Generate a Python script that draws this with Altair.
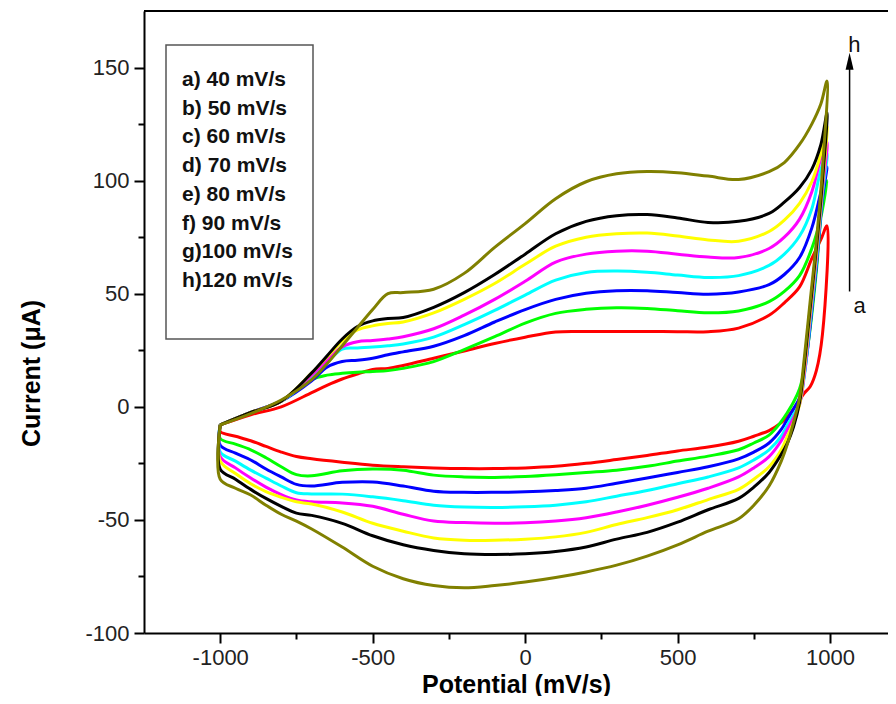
import altair as alt
import pandas as pd

FONT = "Liberation Sans"

SERIES = ["a", "b", "c", "d", "e", "f", "g", "h"]
LABELS = ["a) 40 mV/s", "b) 50 mV/s", "c) 60 mV/s", "d) 70 mV/s",
          "e) 80 mV/s", "f)  90 mV/s", "g)100 mV/s", "h)120 mV/s"]
COLORS = ["#ff0000", "#00ff00", "#0000ff", "#00ffff",
          "#ff00ff", "#ffff00", "#000000", "#808000"]

# forward (upper) scan potentials, mV
X_UP = [-1000, -900, -800, -700, -650, -600, -550, -500, -450, -400,
        -300, -200, -100, 0, 100, 200, 300, 400, 500, 600,
        700, 800, 850, 900, 940, 970, 990]
# reverse (lower) scan potentials, mV
X_DN = [975, 955, 935, 915, 900, 880, 860, 840, 800, 750,
        700, 600, 500, 400, 300, 200, 100, 0, -100, -200,
        -300, -400, -500, -600, -700, -750, -800, -850, -900, -950,
        -1000]

A_UP = [-8, -3.5, 0, 6.3, 9.5, 12.3, 14.5, 16.5, 17, 18.3,
        21.5, 24.7, 28, 30.8, 33.1, 33.3, 33.3, 33.3, 33.2, 33.2,
        34.8, 40.5, 46, 53, 65.5, 74, 80]
B_UP = [-8, -2.5, 2.5, 12, 14, 14.8, 15.3, 15.6, 16, 17,
        20, 25.3, 31, 37, 41.3, 43.1, 43.8, 43.5, 42.5, 41.6,
        42.4, 46.5, 51, 58, 70, 84, 100]
C_UP = [-8, -2.5, 2.5, 11.5, 17.5, 20, 20.6, 21.5, 23, 24.3,
        26.8, 31.5, 37.5, 43, 47.5, 50.2, 51.3, 51.3, 50.5, 49.8,
        50.8, 54, 58.5, 66, 79, 95, 106]
D_UP = [-8, -2.5, 2.5, 13, 19.5, 25.5, 26, 26.4, 27, 27.8,
        30.8, 36.3, 42.6, 49.4, 56, 59.4, 60, 59.5, 58.3, 57.2,
        58, 62.5, 67.5, 75.5, 87.5, 105, 112]
E_UP = [-8, -2.5, 2.5, 14, 20.5, 26.5, 28.8, 29.3, 30, 31,
        34.5, 40.5, 47.5, 55.5, 64, 67.5, 68.8, 68.8, 67.5, 66.2,
        66, 70, 75, 83, 95, 110, 117]
F_UP = [-8, -2.5, 2.5, 15, 22, 29, 34, 35.8, 36.8, 37.5,
        41.5, 47.5, 54.5, 63, 71, 75, 76.5, 76.8, 75.5, 73.8,
        73.2, 77.5, 82.5, 90, 99.5, 112, 124]
G_UP = [-8, -2.5, 2.5, 15, 22.5, 30, 35.5, 38, 39, 39.5,
        44, 50.5, 58.5, 67.5, 76.5, 82, 84.5, 85, 83.5, 81.5,
        82, 85.5, 90.5, 97, 105, 116, 130]
H_UP = [-8, -3, 3, 12, 19, 27, 35, 43, 50, 50.5,
        52, 59, 70.5, 81, 92, 99.5, 103, 104, 103.5, 102,
        100.5, 104, 108, 116, 125, 134, 144]

A_DN = [32, 16, 9, 6, 3, -1, -4.5, -7, -10.5, -13,
        -15.2, -17.8, -19.5, -21.5, -23.3, -25, -26.3, -27, -27.3, -27.3,
        -27, -26.5, -25.8, -24.5, -23, -22, -20, -17.5, -15, -13,
        -11]
B_DN = [90, 60, 35, 16, 8, 2, -2.5, -6.5, -12.5, -16,
        -19, -21.8, -24, -26.3, -28, -29, -30, -30.8, -31.2, -31,
        -30.2, -28, -27.5, -28.3, -30.5, -30, -26.5, -22.5, -19, -16.5,
        -14]
C_DN = [92, 62, 36, 14, 4, -1, -5.5, -10, -16, -20,
        -23, -26.5, -29, -31.5, -33.8, -36, -37, -37.6, -37.8, -37.8,
        -37.3, -35, -33.2, -33.4, -35, -34.3, -31, -27.5, -23.5, -20.5,
        -17]
D_DN = [94, 64, 38, 13, 1.5, -3.5, -8, -13, -19, -23.5,
        -27, -31, -34, -37, -39.5, -42, -43.5, -44.2, -44.5, -44.3,
        -43.5, -41.5, -39.8, -38.6, -38.5, -38, -35, -31.5, -28, -24,
        -20]
E_DN = [96, 66, 40, 14, 1, -5, -10, -15, -22, -27,
        -31, -36, -40, -43.5, -46.5, -49, -50.5, -51.3, -51.5, -51.2,
        -50.5, -47.5, -44, -42.5, -42, -41.2, -38.8, -35.5, -31.5, -27,
        -22]
F_DN = [98, 68, 42, 16, 1, -7, -13, -19, -26.5, -32,
        -36.5, -41, -45.5, -49, -52, -55.5, -57.5, -58.5, -59, -59,
        -58, -55, -51.5, -46.5, -43, -42, -40, -37.5, -34, -29.5,
        -24]
G_DN = [100, 70, 44, 18, 2, -9, -16, -21, -29, -35.5,
        -40.5, -45.5, -51, -55.5, -58.5, -62, -64, -65, -65.3, -65,
        -63.5, -61, -57, -51.5, -48, -47, -44, -40.5, -36.5, -32,
        -27.6]
H_DN = [105, 73, 47, 21, 4, -7, -16.5, -24, -35, -43.5,
        -49.5, -55, -61, -66, -70, -73, -75.5, -77.5, -79, -80,
        -79, -76, -70.5, -62, -54, -50.5, -47.5, -43.5, -39, -36,
        -32]

UPS = [A_UP, B_UP, C_UP, D_UP, E_UP, F_UP, G_UP, H_UP]
DNS = [A_DN, B_DN, C_DN, D_DN, E_DN, F_DN, G_DN, H_DN]

X_MAJOR = [-1000, -500, 0, 500, 1000]
X_MINOR = [-750, -250, 250, 750]
Y_MAJOR = [-100, -50, 0, 50, 100, 150]
Y_MINOR = [-75, -25, 25, 75, 125]

rows = []
for s, up, dn in zip(SERIES, UPS, DNS):
    xs_ = X_UP + X_DN + [X_UP[0]]
    ys_ = up + dn + [up[0]]
    for i, (xv, yv) in enumerate(zip(xs_, ys_)):
        rows.append({"series": s, "x": xv, "y": yv, "i": i})
df = pd.DataFrame(rows)

xsc = alt.Scale(domain=[-1250, 1190], nice=False, zero=False)
ysc = alt.Scale(domain=[-100, 175], nice=False, zero=False)

common = dict(labelFont=FONT, labelFontSize=22, labelColor="#222222",
              tickColor="black", tickWidth=2, domainColor="black",
              domainWidth=2, grid=False, labelFlush=False, labelOverlap=False,
              titleFont=FONT, titleFontSize=25, titleFontWeight="bold",
              titleColor="black")

x_major = alt.Axis(values=X_MAJOR, labelExpr="datum.value + ''", orient="bottom",
                   tickSize=10, labelPadding=4, title="Potential (mV/s)",
                   titleY=59, titleBaseline="alphabetic", **common)
y_major = alt.Axis(values=Y_MAJOR, labelExpr="datum.value + ''", orient="left",
                   tickSize=10, labelPadding=5, title="Current (\u03bcA)",
                   titleX=-113, titleY=362, titleAngle=270, titleAlign="center",
                   titleBaseline="middle", **common)
x_minor = alt.Axis(values=X_MINOR, labels=False, domain=False, orient="bottom",
                   tickSize=6, tickWidth=2, tickColor="black", title="", grid=False)
y_minor = alt.Axis(values=Y_MINOR, labels=False, domain=False, orient="left",
                   tickSize=6, tickWidth=2, tickColor="black", title="", grid=False)

layers = []
layers.append(
    alt.Chart(df).mark_point(opacity=0).encode(
        x=alt.X("x:Q", scale=xsc, axis=x_minor),
        y=alt.Y("y:Q", scale=ysc, axis=y_minor),
    )
)
for k, s in enumerate(SERIES):
    d = df[df.series == s]
    layers.append(
        alt.Chart(d).mark_line(color=COLORS[k], strokeWidth=3, strokeJoin="round",
                               interpolate="catmull-rom").encode(
            x=alt.X("x:Q", scale=xsc, axis=x_major if k == 0 else None),
            y=alt.Y("y:Q", scale=ysc, axis=y_major if k == 0 else None),
            order="i:Q",
        )
    )

one = pd.DataFrame({"k": [0]})
# top frame line
layers.append(alt.Chart(one).mark_rule(color="black", strokeWidth=2).encode(
    y=alt.YDatum(175, scale=ysc, axis=None)))

# legend box and labels
layers.append(alt.Chart(one).mark_rect(filled=False, stroke="#555555", strokeWidth=1.5).encode(
    x=alt.value(22), x2=alt.value(169), y=alt.value(34), y2=alt.value(328)))
for k, lab in enumerate(LABELS):
    layers.append(alt.Chart(one).mark_text(
        align="left", baseline="middle", font=FONT, fontSize=21,
        fontWeight="bold", color="#111111").encode(
        x=alt.value(38), y=alt.value(69 + 28.7 * k), text=alt.value(lab)))

# arrow a -> h
layers.append(alt.Chart(one).mark_rule(color="black", strokeWidth=1.5).encode(
    x=alt.XDatum(1064, scale=xsc, axis=None),
    y=alt.YDatum(51, scale=ysc, axis=None),
    y2=alt.Y2Datum(150)))
layers.append(alt.Chart(one).mark_point(
    shape="M0,-1L-0.47,1L0.47,1Z", size=289, filled=True, fill="black",
    stroke=None, opacity=1).encode(
    x=alt.XDatum(1064, scale=xsc, axis=None),
    y=alt.YDatum(152.8, scale=ysc, axis=None)))
layers.append(alt.Chart(one).mark_text(font=FONT, fontSize=22, color="#111111",
                                       align="center", baseline="middle").encode(
    x=alt.XDatum(1080, scale=xsc, axis=None),
    y=alt.YDatum(160, scale=ysc, axis=None), text=alt.value("h")))
layers.append(alt.Chart(one).mark_text(font=FONT, fontSize=22, color="#111111",
                                       align="center", baseline="middle").encode(
    x=alt.XDatum(1097, scale=xsc, axis=None),
    y=alt.YDatum(44.4, scale=ysc, axis=None), text=alt.value("a")))

chart = alt.layer(*layers).resolve_axis(x="independent", y="independent").properties(
    width=744, height=622,
    padding={"left": 136, "top": 3, "right": 0, "bottom": 63},
    autosize=alt.AutoSizeParams(type="none"),
    background="white",
).configure_view(stroke=None)

chart.save("out.html", embed_options={"renderer": "svg", "actions": False})
